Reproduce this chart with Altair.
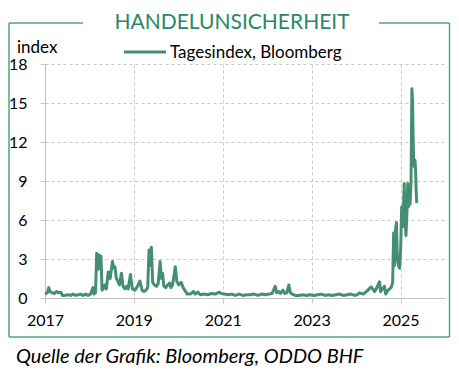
import altair as alt
import pandas as pd

# ---- data ----
dates = [
    "2017-01-02", "2017-01-20", "2017-02-01", "2017-02-10", "2017-03-01", "2017-03-20",
    "2017-04-05", "2017-04-20", "2017-05-10", "2017-05-25", "2017-06-15", "2017-07-10",
    "2017-08-01", "2017-08-20", "2017-09-10", "2017-10-01", "2017-10-20", "2017-11-10",
    "2017-12-01", "2017-12-20", "2018-01-10", "2018-01-30", "2018-02-08", "2018-02-20",
    "2018-03-02", "2018-03-15", "2018-03-23", "2018-04-06", "2018-04-15", "2018-04-30",
    "2018-05-08", "2018-05-20", "2018-06-05", "2018-06-20", "2018-07-09", "2018-07-20",
    "2018-07-30", "2018-08-10", "2018-08-22", "2018-09-05", "2018-09-21", "2018-10-04",
    "2018-10-20", "2018-11-01", "2018-11-15", "2018-12-04", "2018-12-20",
    "2019-01-10", "2019-01-25", "2019-02-20", "2019-03-10", "2019-03-25", "2019-04-10",
    "2019-04-25", "2019-05-06", "2019-05-14", "2019-05-25", "2019-06-05", "2019-06-20",
    "2019-07-05", "2019-07-20", "2019-08-05", "2019-08-15", "2019-08-25", "2019-09-05",
    "2019-09-20", "2019-10-05", "2019-10-22", "2019-11-01", "2019-11-15", "2019-12-08",
    "2019-12-20", "2020-01-05", "2020-01-25", "2020-02-10", "2020-03-15", "2020-04-10",
    "2020-05-05", "2020-05-20", "2020-06-10", "2020-07-01", "2020-08-01", "2020-09-01",
    "2020-10-01", "2020-11-01", "2020-12-01", "2020-12-20",
    "2021-01-15", "2021-02-15", "2021-03-15", "2021-04-15", "2021-05-15", "2021-06-15",
    "2021-07-15", "2021-08-15", "2021-09-15", "2021-10-15", "2021-11-15", "2021-12-15",
    "2022-01-15", "2022-02-10", "2022-03-08", "2022-03-20", "2022-04-05", "2022-04-20",
    "2022-05-10", "2022-05-25", "2022-06-10", "2022-06-28", "2022-07-10", "2022-07-25",
    "2022-08-20", "2022-09-20", "2022-10-20", "2022-11-20", "2022-12-20",
    "2023-01-20", "2023-02-20", "2023-03-20", "2023-04-20", "2023-05-20", "2023-06-20",
    "2023-07-20", "2023-08-20", "2023-09-20", "2023-10-20", "2023-11-20", "2023-12-20",
    "2024-01-10", "2024-01-30", "2024-03-01", "2024-04-01", "2024-05-04", "2024-06-02",
    "2024-06-15", "2024-07-12", "2024-07-20", "2024-08-21", "2024-09-01", "2024-09-20",
    "2024-10-15", "2024-10-28", "2024-11-05", "2024-11-12", "2024-11-20", "2024-11-28",
    "2024-12-05", "2024-12-15", "2024-12-24", "2025-01-02", "2025-01-10", "2025-01-20",
    "2025-01-31", "2025-02-06", "2025-02-14", "2025-02-20", "2025-03-01", "2025-03-06",
    "2025-03-13", "2025-03-20", "2025-03-28", "2025-04-04", "2025-04-09", "2025-04-14",
    "2025-04-18", "2025-04-24", "2025-04-30", "2025-05-05", "2025-05-08", "2025-05-14",
]
values = [
    0.3, 0.4, 0.8, 0.5, 0.4, 0.35,
    0.5, 0.4, 0.45, 0.2, 0.2, 0.25,
    0.2, 0.3, 0.2, 0.25, 0.3, 0.2,
    0.3, 0.2, 0.3, 0.8, 0.3, 0.4,
    3.45, 2.2, 3.3, 3.2, 0.6, 0.8,
    1.0, 0.7, 2.0, 1.5, 2.8, 2.3,
    2.4, 1.5, 1.3, 1.0, 1.9, 0.9,
    0.7, 0.9, 0.7, 1.8, 0.7,
    0.6, 0.8, 1.3, 0.6, 0.5, 0.6,
    0.8, 3.7, 2.5, 3.9, 1.2, 1.0,
    0.9, 1.1, 2.8, 1.5, 1.9, 0.9,
    0.8, 1.0, 1.15, 0.8, 1.0, 2.4,
    1.3, 1.0, 1.2, 0.8, 0.3, 0.3,
    0.5, 0.3, 0.45, 0.25, 0.3, 0.25,
    0.35, 0.3, 0.45, 0.35,
    0.3, 0.25, 0.3, 0.2, 0.3, 0.2,
    0.25, 0.25, 0.3, 0.2, 0.3, 0.25,
    0.3, 0.35, 0.9, 0.4, 0.5, 0.35,
    0.6, 0.35, 0.4, 1.0, 0.4, 0.3,
    0.2, 0.2, 0.25, 0.2, 0.25,
    0.2, 0.25, 0.3, 0.2, 0.25, 0.2,
    0.25, 0.3, 0.2, 0.25, 0.3, 0.2,
    0.25, 0.4, 0.3, 0.55, 0.85, 0.5,
    0.7, 1.25, 0.5, 0.9, 0.3, 0.6,
    0.8, 1.2, 5.0, 2.5, 5.2, 5.8,
    3.0, 2.5, 2.3, 3.9, 7.0, 5.5,
    8.8, 6.5, 4.8, 6.0, 8.8, 7.0,
    8.3, 7.2, 9.0, 16.1, 15.2, 12.4,
    10.8, 10.1, 10.6, 9.6, 8.5, 7.3,
]

title_text = "HANDELUNSICHERHEIT"
legend_text = "Tagesindex, Bloomberg"
unit_text = "index"
source_text = "Quelle der Grafik: Bloomberg, ODDO BHF"
x_tick_years = [2017, 2019, 2021, 2023, 2025]
y_ticks = [0, 3, 6, 9, 12, 15, 18]

GREEN = "#448f70"
TITLE_GREEN = "#2b8866"
BORDER = "#4fa585"
FONT = "Lato"

df = pd.DataFrame({"date": dates, "value": values})
one = pd.DataFrame({"k": [0]})

line = alt.Chart(df).mark_line(color=GREEN, strokeWidth=3, strokeJoin="round").encode(
    x=alt.X(
        "date:T",
        title=None,
        scale=alt.Scale(
            type="utc",
            domain=[alt.DateTime(year=2017, month=1, date=1, utc=True),
                    alt.DateTime(year=2026, month=1, date=1, utc=True)],
        ),
        axis=alt.Axis(
            values=[alt.DateTime(year=y, month=1, date=1, utc=True) for y in x_tick_years],
            format="%Y",
            labelPadding=9,
            labelFlush=False,
        ),
    ),
    y=alt.Y(
        "value:Q",
        title=None,
        scale=alt.Scale(domain=[0, 18], nice=False, zero=True),
        axis=alt.Axis(values=y_ticks, labelPadding=13),
    ),
)

def txt(t, x, y, size, color="#000000", align="left", italic=False):
    kw = dict(text=t, fontSize=size, color=color, align=align, baseline="alphabetic", font=FONT)
    if italic:
        kw["fontStyle"] = "italic"
    return alt.Chart(one).mark_text(**kw).encode(x=alt.value(x), y=alt.value(y))

def hrule(x1, x2, y, color=BORDER, w=1.5):
    return alt.Chart(one).mark_rule(color=color, strokeWidth=w).encode(
        x=alt.value(x1), x2=alt.value(x2), y=alt.value(y))

def vrule(x, y1, y2, color=BORDER, w=1.5):
    return alt.Chart(one).mark_rule(color=color, strokeWidth=w).encode(
        x=alt.value(x), y=alt.value(y1), y2=alt.value(y2))

RIGHT = 404.5
border = [
    hrule(-36, 38, -41), hrule(334, RIGHT, -41),
    hrule(-36, RIGHT, 273),
    vrule(-36, -41, 273), vrule(RIGHT, -41, 273),
]

legend_line = alt.Chart(one).mark_rule(color=GREEN, strokeWidth=3).encode(
    x=alt.value(79), x2=alt.value(121), y=alt.value(-12))

chart = alt.layer(
    *border,
    line,
    txt(title_text, 187, -35, 21, TITLE_GREEN, align="center"),
    txt(unit_text, -28, -11.5, 17),
    legend_line,
    txt(legend_text, 125, -6, 17),
    txt(source_text, -29, 299, 20, italic=True),
).properties(
    width=400, height=234,
    autosize=alt.AutoSizeParams(type="none"),
    padding={"left": 37, "top": 56, "right": 6, "bottom": 72},
).configure_view(stroke=None).configure_axis(
    labelFont=FONT, labelFontSize=16, labelColor="#000000",
    domainColor="#bfbfbf", domainWidth=1,
    gridColor="#c8c8c8", gridDash=[3, 3], gridWidth=1,
    tickColor="#c8c8c8", tickSize=5, tickWidth=1,
)

chart.save("out.html", embed_options={"renderer": "svg", "actions": False})
